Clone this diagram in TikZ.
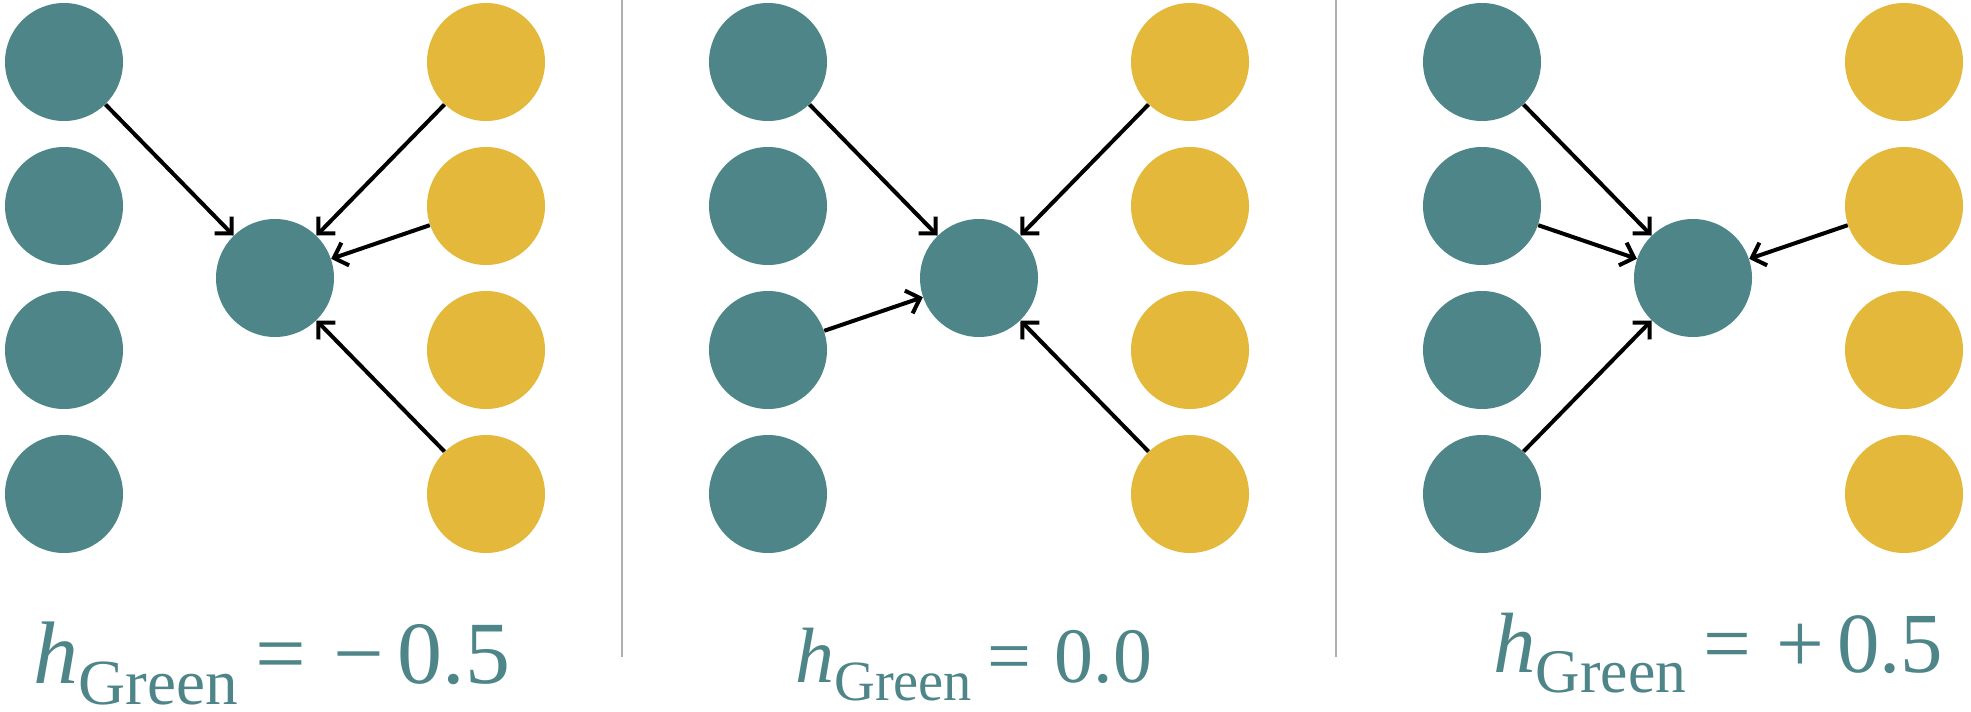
\documentclass[tikz,border=0pt]{standalone}
\usepackage{graphicx}
\usepackage{fontspec}
\setmainfont{Liberation Serif}
\usetikzlibrary{arrows.meta}
\definecolor{nodegreen}{RGB}{78,133,136}
\definecolor{nodeyellow}{RGB}{228,184,59}
\definecolor{sepgray}{RGB}{175,175,175}
\newcommand{\hlabel}[3]{\scalebox{#1}[#2]{\fontsize{40}{40}\selectfont\textit{h}\raisebox{-9.6pt}{\fontsize{29}{29}\selectfont Green}\hspace{8pt}=\hspace{12pt}#3}}

\begin{document}
\begin{tikzpicture}
[
    x=0.5pt, y=-0.5pt,
    green/.style={circle, fill=nodegreen, minimum size=59pt, inner sep=0pt},
    yellow/.style={circle, fill=nodeyellow, minimum size=59pt, inner sep=0pt},
    link/.style={-{Straight Barb[length=6pt, width=12pt]}, line width=2pt},
    sep/.style={draw=sepgray, line width=0.75pt},
    hval/.style={anchor=base west, inner sep=0pt, text=nodegreen},
]
\useasboundingbox (0,0) rectangle (1971,712);

\node [green] (aL1) at (64,62) {};
\node [green] (aL2) at (64,206) {};
\node [green] (aL3) at (64,350) {};
\node [green] (aL4) at (64,494) {};
\node [yellow] (aR1) at (486,62) {};
\node [yellow] (aR2) at (486,206) {};
\node [yellow] (aR3) at (486,350) {};
\node [yellow] (aR4) at (486,494) {};
\node [green] (aC) at (275,278) {};
\draw [link] (aL1) -- (aC);
\draw [link] (aR1) -- (aC);
\draw [link] (aR2) -- (aC);
\draw [link] (aR4) -- (aC);
\node [hval] (aH) at (33,683) {\hlabel{1.125}{1.11}{−\hspace{6pt}0.5}};

\coordinate (s1top) at (622,0);
\coordinate (s1bot) at (622,657);
\draw [sep] (s1top) -- (s1bot);

\node [green] (bL1) at (768,62) {};
\node [green] (bL2) at (768,206) {};
\node [green] (bL3) at (768,350) {};
\node [green] (bL4) at (768,494) {};
\node [yellow] (bR1) at (1190,62) {};
\node [yellow] (bR2) at (1190,206) {};
\node [yellow] (bR3) at (1190,350) {};
\node [yellow] (bR4) at (1190,494) {};
\node [green] (bC) at (979,278) {};
\draw [link] (bL1) -- (bC);
\draw [link] (bL3) -- (bC);
\draw [link] (bR1) -- (bC);
\draw [link] (bR4) -- (bC);
\node [hval] (bH) at (795,682) {\hlabel{0.973}{0.98}{0.0}};

\coordinate (s2top) at (1336,0);
\coordinate (s2bot) at (1336,657);
\draw [sep] (s2top) -- (s2bot);

\node [green] (cL1) at (1482,62) {};
\node [green] (cL2) at (1482,206) {};
\node [green] (cL3) at (1482,350) {};
\node [green] (cL4) at (1482,494) {};
\node [yellow] (cR1) at (1904,62) {};
\node [yellow] (cR2) at (1904,206) {};
\node [yellow] (cR3) at (1904,350) {};
\node [yellow] (cR4) at (1904,494) {};
\node [green] (cC) at (1693,278) {};
\draw [link] (cL1) -- (cC);
\draw [link] (cL2) -- (cC);
\draw [link] (cL4) -- (cC);
\draw [link] (cR2) -- (cC);
\node [hval] (cH) at (1493,672) {\hlabel{1.061}{1.07}{+\hspace{6pt}0.5}};
\end{tikzpicture}
\end{document}
